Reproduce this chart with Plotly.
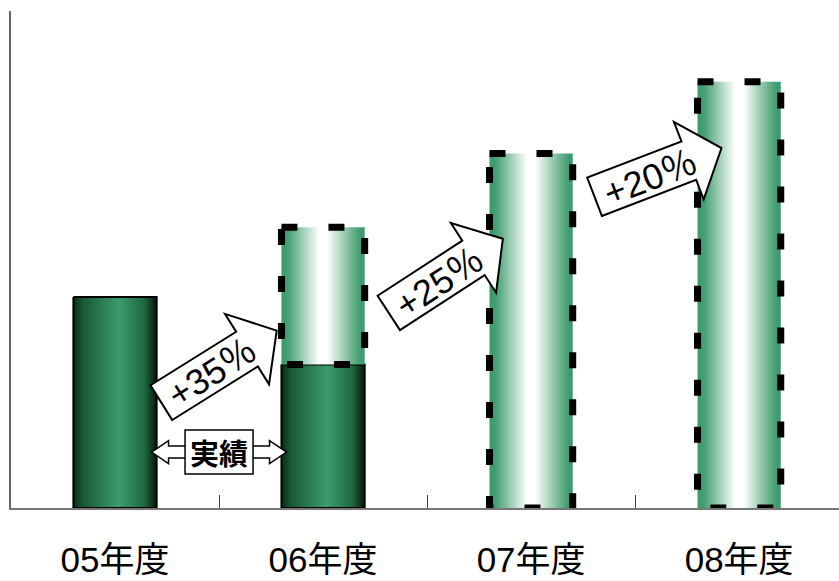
import math
import plotly.graph_objects as go

# ---- data ----
categories = ["05年度", "06年度", "07年度", "08年度"]
actual = [100, 68, None, None]          # 実績 (solid bars)
plan = [None, 133, 168, 202]            # 計画 (dashed bars, top value)
growth_labels = ["+35％", "+25％", "+20％"]
growth_x = [0.5, 1.59, 2.61]            # arrow centre (category axis units)
growth_y = [67, 110, 159]               # arrow centre (value units)
growth_angle = [32, 33, 21]             # degrees, counter-clockwise
actual_label = "実績"
actual_label_x = 0.5
actual_label_y = 26.5

Y_MAX = 235.5
BAR_W = 0.4
FONT = "Liberation Sans, Arial, Noto Sans CJK JP"

solid_scale = [[0, "#0a2c16"], [0.12, "#1a5a34"], [0.55, "#3c9c6c"], [0.85, "#1f6a40"], [1, "#041a0a"]]
plan_scale = [[0, "#3a996a"], [0.08, "#45a072"], [0.45, "#ffffff"], [0.55, "#ffffff"], [0.93, "#45a072"], [1, "#3a996a"]]

fig = go.Figure()


def rect(xc, y0, y1):
    xl, xr = xc - BAR_W / 2, xc + BAR_W / 2
    return [xl, xr, xr, xl, xl], [y1, y1, y0, y0, y1]


# solid (actual) bars
for i, v in enumerate(actual):
    if v is None:
        continue
    xs, ys = rect(i, 0, v)
    fig.add_trace(go.Scatter(
        x=xs, y=ys, mode="lines", fill="toself",
        fillgradient=dict(type="horizontal", colorscale=solid_scale),
        line=dict(color="black", width=2), hoverinfo="skip", showlegend=False))

# dashed (plan) bars
for i, v in enumerate(plan):
    if v is None:
        continue
    base = actual[i] if actual[i] is not None else 0
    xs, ys = rect(i, base, v)
    fig.add_trace(go.Scatter(
        x=xs, y=ys, mode="lines", fill="toself",
        fillgradient=dict(type="horizontal", colorscale=plan_scale),
        line=dict(color="black", width=7, dash="16px,31px"),
        hoverinfo="skip", showlegend=False))

# ---- growth arrows (block arrows, pixel-sized) ----
L, W_BODY, W_HEAD, H_HEAD = 136, 41, 83, 35


def arrow_path(angle_deg):
    a = math.radians(angle_deg)
    ux, uy = math.cos(a), math.sin(a)
    nx, ny = -uy, ux
    pts_local = [(-L / 2, -W_BODY / 2), (L / 2 - H_HEAD, -W_BODY / 2), (L / 2 - H_HEAD, -W_HEAD / 2),
                 (L / 2, 0), (L / 2 - H_HEAD, W_HEAD / 2), (L / 2 - H_HEAD, W_BODY / 2), (-L / 2, W_BODY / 2)]
    pts = [(p * ux + q * nx, p * uy + q * ny) for p, q in pts_local]
    return "M " + " L ".join(f"{x:.2f},{y:.2f}" for x, y in pts) + " Z"


for lab, xa, ya, ang in zip(growth_labels, growth_x, growth_y, growth_angle):
    fig.add_shape(type="path", xref="x", yref="y", xsizemode="pixel", ysizemode="pixel",
                  xanchor=xa, yanchor=ya, path=arrow_path(ang),
                  fillcolor="white", line=dict(color="black", width=2), layer="above")
    a = math.radians(ang)
    off = -8
    fig.add_annotation(x=xa, y=ya, xref="x", yref="y", text=lab, showarrow=False,
                       textangle=-ang, xshift=off * math.cos(a), yshift=off * math.sin(a) - 2,
                       font=dict(family=FONT, size=36, color="black"))

# ---- 実績 double arrow ----
HALF, HEAD_L, HEAD_H, SHAFT_H = 67.5, 17, 11.5, 6
dpts = [(-HALF, 0), (-HALF + HEAD_L, HEAD_H), (-HALF + HEAD_L, SHAFT_H), (HALF - HEAD_L, SHAFT_H),
        (HALF - HEAD_L, HEAD_H), (HALF, 0), (HALF - HEAD_L, -HEAD_H), (HALF - HEAD_L, -SHAFT_H),
        (-HALF + HEAD_L, -SHAFT_H), (-HALF + HEAD_L, -HEAD_H)]
fig.add_shape(type="path", xref="x", yref="y", xsizemode="pixel", ysizemode="pixel",
              xanchor=actual_label_x, yanchor=actual_label_y,
              path="M " + " L ".join(f"{x},{y}" for x, y in dpts) + " Z",
              fillcolor="white", line=dict(color="black", width=1.5), layer="above")
fig.add_shape(type="rect", xref="x", yref="y", xsizemode="pixel", ysizemode="pixel",
              xanchor=actual_label_x, yanchor=actual_label_y, x0=-34, x1=34, y0=-22, y1=22,
              fillcolor="white", line=dict(color="black", width=1.5), layer="above")
fig.add_annotation(x=actual_label_x, y=actual_label_y, xref="x", yref="y", text=f"<b>{actual_label}</b>",
                   showarrow=False, font=dict(family="Noto Sans CJK JP", size=29, color="black"))

fig.update_layout(
    width=839, height=581, autosize=False,
    margin=dict(l=11, r=0, t=11, b=73, pad=0),
    paper_bgcolor="white", plot_bgcolor="white",
    showlegend=False,
    xaxis=dict(range=[-0.5, 3.48], tickmode="array", tickvals=list(range(len(categories))),
               ticktext=categories, ticks="", showgrid=False, zeroline=False,
               showline=True, linecolor="#777777", linewidth=2, automargin=False,
               ticklabelstandoff=20,
               tickfont=dict(family=FONT, size=35, color="black"),
               minor=dict(tickvals=[0.5, 1.5, 2.5], ticks="inside", ticklen=13,
                          tickcolor="#444444", tickwidth=1, showgrid=False)),
    yaxis=dict(range=[0, Y_MAX], showticklabels=False, ticks="", showgrid=False,
               zeroline=False, showline=True, linecolor="#666666", linewidth=2, automargin=False),
)

fig.write_html("out.html")
